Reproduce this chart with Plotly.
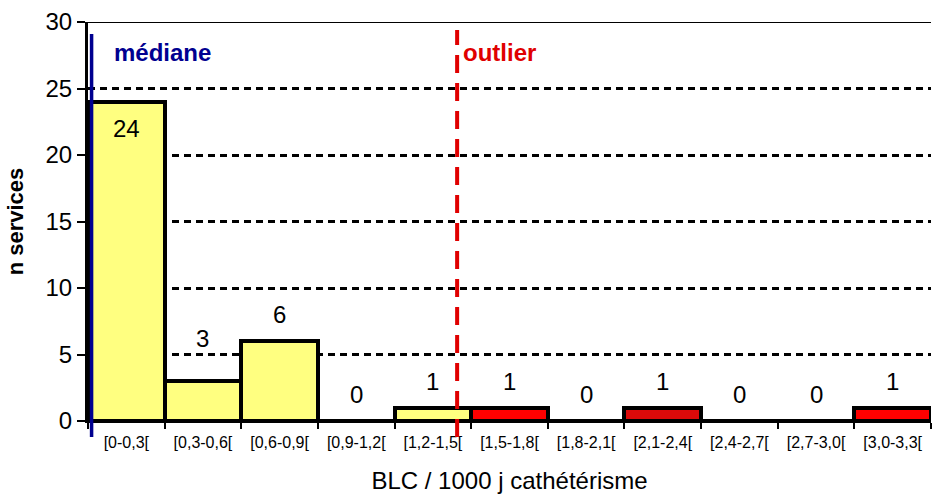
import plotly.graph_objects as go

# ---- data ----
categories = ["[0-0,3[", "[0,3-0,6[", "[0,6-0,9[", "[0,9-1,2[", "[1,2-1,5[",
              "[1,5-1,8[", "[1,8-2,1[", "[2,1-2,4[", "[2,4-2,7[", "[2,7-3,0[", "[3,0-3,3["]
n_services = [24, 3, 6, 0, 1, 1, 0, 1, 0, 0, 1]
is_outlier = [False, False, False, False, False, True, True, True, True, True, True]
bin_width = 0.3
median_value = 0.014
outlier_threshold = 1.445
y_ticks = [0, 5, 10, 15, 20, 25, 30]

# ---- styles ----
FONT = "Liberation Sans, Arial, sans-serif"
YELLOW = "#FFFF80"
RED = "#FF0000"
DARK_RED = "#DC0A0A"
colors = [RED if o else YELLOW for o in is_outlier]
# middle red bar drawn in a darker shade in the original
colors[7] = DARK_RED

def to_pos(val):
    # convert BLC value to category-axis position
    return val / bin_width - 0.5

fig = go.Figure()
fig.add_trace(go.Bar(
    x=categories, y=n_services, width=1,
    marker=dict(color=colors, line=dict(color="black", width=4)),
    hoverinfo="x+y", showlegend=False,
))

# value labels
label_offset = 2.0
label_nudge = {1: 1.2}
top_cap = 22.0
annotations = []
for i, v in enumerate(n_services):
    y = min(v + label_offset + label_nudge.get(i, 0), top_cap)
    annotations.append(dict(x=i, y=y, xref="x", yref="y", text=str(v), showarrow=False,
                            font=dict(family=FONT, size=24, color="black")))

annotations.append(dict(x=to_pos(median_value), y=27.7, xref="x", yref="y", text="<b>médiane</b>",
                        showarrow=False, xanchor="left", xshift=20,
                        font=dict(family=FONT, size=24, color="#000090")))
annotations.append(dict(x=to_pos(outlier_threshold), y=27.7, xref="x", yref="y", text="<b>outlier</b>",
                        showarrow=False, xanchor="left", xshift=4,
                        font=dict(family=FONT, size=24, color="#E00000")))

shapes = [
    # solid top border at 30
    dict(type="line", xref="paper", yref="y", x0=0, x1=1, y0=30, y1=30,
         line=dict(color="black", width=2), layer="above"),
    # median line
    dict(type="line", xref="x", yref="paper", x0=to_pos(median_value), x1=to_pos(median_value),
         y0=-0.04, y1=0.97, line=dict(color="#000090", width=3.5), layer="above"),
    # outlier threshold
    dict(type="line", xref="x", yref="paper", x0=to_pos(outlier_threshold), x1=to_pos(outlier_threshold),
         y0=-0.04, y1=0.98, line=dict(color="#E00000", width=4, dash="18px,10px"), layer="above"),
]

fig.update_layout(
    width=932, height=502,
    margin=dict(l=88, r=1, t=22, b=81),
    paper_bgcolor="white", plot_bgcolor="white",
    bargap=0,
    font=dict(family=FONT, color="black"),
    annotations=annotations,
    shapes=shapes,
    xaxis=dict(
        type="category", categoryorder="array", categoryarray=categories,
        range=[-0.5, len(categories) - 0.5], automargin=False,
        tickson="boundaries", ticks="outside", ticklen=6, tickwidth=2, tickcolor="black",
        ticklabelstandoff=6,
        showline=True, linecolor="black", linewidth=2, showgrid=False,
        tickfont=dict(family=FONT, size=16, color="black"),
        title=dict(text="BLC / 1000 j cathétérisme", font=dict(family=FONT, size=24, color="black"),
                   standoff=22),
        fixedrange=True,
    ),
    yaxis=dict(
        range=[0, 30], tickvals=y_ticks, automargin=False,
        ticks="outside", ticklen=8, tickwidth=2, tickcolor="black",
        showline=True, linecolor="black", linewidth=3,
        showgrid=True, gridcolor="black", gridwidth=2.5, griddash="7px,5px",
        zeroline=False,
        tickfont=dict(family=FONT, size=24, color="black"),
        title=dict(text="<b>n services</b>", font=dict(family=FONT, size=22, color="black"),
                   standoff=16),
        fixedrange=True,
    ),
)

fig.write_html("out.html", config={"displayModeBar": False},
               post_script="document.body.style.margin='0';")
